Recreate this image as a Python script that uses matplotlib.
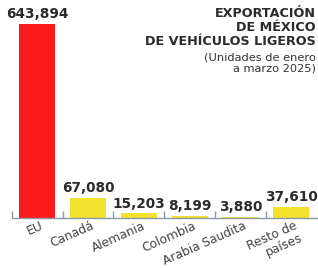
import numpy as np
import matplotlib.pyplot as plt

# Data
paises = ["EU", "Canadá", "Alemania", "Colombia", "Arabia Saudita", "Resto de\npaíses"]
unidades = [643894, 67080, 15203, 8199, 3880, 37610]
etiquetas = ["643,894", "67,080", "15,203", "8,199", "3,880", "37,610"]
colores = ["#fa1c1c", "#f3e22e", "#f3e22e", "#f3e22e", "#f3e22e", "#f3e22e"]

plt.rcParams['font.family'] = ['DejaVu Sans']

fig = plt.figure(figsize=(3.18, 2.68), dpi=100)
ax = fig.add_axes([12 / 318, 50 / 268, 307 / 318, 194 / 268])

x = np.arange(len(paises))
ax.bar(x, unidades, width=0.71, color=colores, zorder=2)

# value labels above bars
for xi, v, lab in zip(x, unidades, etiquetas):
    ax.annotate(lab, (xi, v), xytext=(0, 2), textcoords="offset points",
                ha="center", va="bottom", fontsize=9.8, fontweight="bold",
                color="#2b2b2b", clip_on=False)

ax.set_xlim(-0.5, len(paises) - 0.5 + 0.05)
ax.set_ylim(0, max(unidades))

for s in ["top", "right", "left"]:
    ax.spines[s].set_visible(False)
ax.spines["bottom"].set_color("#8c9aa8")
ax.spines["bottom"].set_linewidth(1.0)
ax.set_yticks([])

# category labels, tick marks at category edges
ax.set_xticks(x + 0.06)
ax.set_xticklabels(paises, rotation=24, ha="right", rotation_mode="anchor",
                   fontsize=8.8, color="#444444", linespacing=0.95)
ax.tick_params(axis="x", which="major", length=0, pad=1)
ax.set_xticks(np.arange(-0.5, len(paises) - 0.5, 1), minor=True)
ax.tick_params(axis="x", which="minor", direction="in", length=5,
               color="#8c9aa8", width=1.0)

# title block, right aligned
fig.text(316 / 318, 1 - 7 / 268, "EXPORTACIÓN\nDE MÉXICO\nDE VEHÍCULOS LIGEROS",
         ha="right", va="top", fontsize=9.2, fontweight="bold", color="#2b2b2b",
         linespacing=1.12)
fig.text(316 / 318, 1 - 52 / 268, "(Unidades de enero\na marzo 2025)",
         ha="right", va="top", fontsize=8.2, color="#333333", linespacing=1.2)

fig.savefig("out.png", dpi=100)
